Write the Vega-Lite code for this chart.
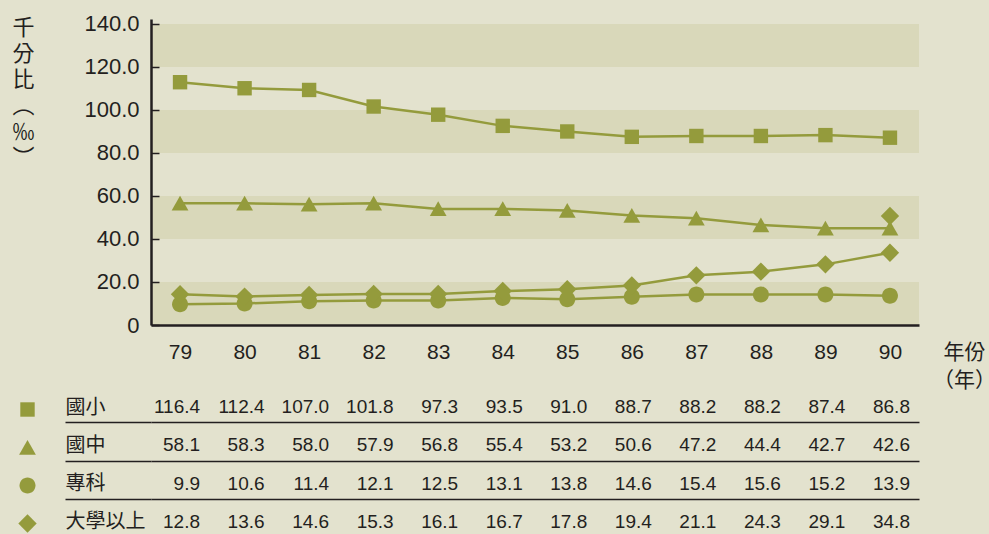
{
  "$schema": "https://vega.github.io/schema/vega-lite/v6.json",
  "background": "#e3e2ce",
  "padding": {"left": 11, "top": 12, "right": 0, "bottom": 0},
  "config": {"view": {"stroke": null}, "font": "Liberation Sans"},
  "spacing": -7,
  "datasets": {
    "rates": [
      {"year": 79, "series": "國小", "plotted": 112.9, "value": 116.4},
      {"year": 80, "series": "國小", "plotted": 110.1, "value": 112.4},
      {"year": 81, "series": "國小", "plotted": 109.3, "value": 107.0},
      {"year": 82, "series": "國小", "plotted": 101.6, "value": 101.8},
      {"year": 83, "series": "國小", "plotted": 97.8, "value": 97.3},
      {"year": 84, "series": "國小", "plotted": 92.6, "value": 93.5},
      {"year": 85, "series": "國小", "plotted": 90.0, "value": 91.0},
      {"year": 86, "series": "國小", "plotted": 87.5, "value": 88.7},
      {"year": 87, "series": "國小", "plotted": 87.9, "value": 88.2},
      {"year": 88, "series": "國小", "plotted": 87.9, "value": 88.2},
      {"year": 89, "series": "國小", "plotted": 88.3, "value": 87.4},
      {"year": 90, "series": "國小", "plotted": 87.1, "value": 86.8},
      {"year": 79, "series": "國中", "plotted": 56.6, "value": 58.1},
      {"year": 80, "series": "國中", "plotted": 56.6, "value": 58.3},
      {"year": 81, "series": "國中", "plotted": 56.1, "value": 58.0},
      {"year": 82, "series": "國中", "plotted": 56.6, "value": 57.9},
      {"year": 83, "series": "國中", "plotted": 54.0, "value": 56.8},
      {"year": 84, "series": "國中", "plotted": 54.0, "value": 55.4},
      {"year": 85, "series": "國中", "plotted": 53.2, "value": 53.2},
      {"year": 86, "series": "國中", "plotted": 50.9, "value": 50.6},
      {"year": 87, "series": "國中", "plotted": 49.6, "value": 47.2},
      {"year": 88, "series": "國中", "plotted": 46.5, "value": 44.4},
      {"year": 89, "series": "國中", "plotted": 45.0, "value": 42.7},
      {"year": 90, "series": "國中", "plotted": 45.0, "value": 42.6},
      {"year": 79, "series": "專科", "plotted": 9.6, "value": 9.9},
      {"year": 80, "series": "專科", "plotted": 10.0, "value": 10.6},
      {"year": 81, "series": "專科", "plotted": 11.1, "value": 11.4},
      {"year": 82, "series": "專科", "plotted": 11.4, "value": 12.1},
      {"year": 83, "series": "專科", "plotted": 11.4, "value": 12.5},
      {"year": 84, "series": "專科", "plotted": 12.6, "value": 13.1},
      {"year": 85, "series": "專科", "plotted": 12.0, "value": 13.8},
      {"year": 86, "series": "專科", "plotted": 13.1, "value": 14.6},
      {"year": 87, "series": "專科", "plotted": 14.2, "value": 15.4},
      {"year": 88, "series": "專科", "plotted": 14.2, "value": 15.6},
      {"year": 89, "series": "專科", "plotted": 14.2, "value": 15.2},
      {"year": 90, "series": "專科", "plotted": 13.6, "value": 13.9},
      {"year": 79, "series": "大學以上", "plotted": 14.3, "value": 12.8},
      {"year": 80, "series": "大學以上", "plotted": 13.2, "value": 13.6},
      {"year": 81, "series": "大學以上", "plotted": 14.0, "value": 14.6},
      {"year": 82, "series": "大學以上", "plotted": 14.4, "value": 15.3},
      {"year": 83, "series": "大學以上", "plotted": 14.4, "value": 16.1},
      {"year": 84, "series": "大學以上", "plotted": 15.8, "value": 16.7},
      {"year": 85, "series": "大學以上", "plotted": 16.6, "value": 17.8},
      {"year": 86, "series": "大學以上", "plotted": 18.4, "value": 19.4},
      {"year": 87, "series": "大學以上", "plotted": 23.1, "value": 21.1},
      {"year": 88, "series": "大學以上", "plotted": 24.8, "value": 24.3},
      {"year": 89, "series": "大學以上", "plotted": 28.2, "value": 29.1},
      {"year": 90, "series": "大學以上", "plotted": 33.6, "value": 34.8}
    ],
    "extra": [
      {"year": 90, "series": "大學以上", "plotted": 50.7}
    ],
    "bands": [
      {"lo": 0, "hi": 20},
      {"lo": 40, "hi": 60},
      {"lo": 80, "hi": 100},
      {"lo": 120, "hi": 140}
    ]
  },
  "vconcat": [
    {
      "width": 768,
      "height": 306,
      "layer": [
        {
          "data": {"name": "bands"},
          "mark": {"type": "rect", "color": "#d9d8ba"},
          "encoding": {
            "y": {
              "field": "lo", "type": "quantitative",
              "scale": {"domain": [0, 142.3], "nice": false, "zero": true},
              "axis": {
                "zindex": 1,
                "values": [0, 20, 40, 60, 80, 100, 120, 140],
                "labelExpr": "datum.value == 0 ? '0' : format(datum.value, '.1f')",
                "labelFont": "Liberation Sans",
                "labelFontSize": 22,
                "labelColor": "#231f20",
                "labelPadding": 20,
                "tickSize": -8,
                "tickWidth": 1.5,
                "tickColor": "#231f20",
                "domainColor": "#231f20",
                "domainWidth": 2.5,
                "grid": false,
                "title": ["千", "分", "比", "︵", "‰", "︶"],
                "titleAngle": 0,
                "titleAlign": "center",
                "titleBaseline": "top",
                "titleX": -128,
                "titleY": -2,
                "titleLineHeight": 26,
                "titleFont": "Noto Sans CJK TC",
                "titleFontSize": 22,
                "titleFontWeight": "normal",
                "titleColor": "#231f20"
              }
            },
            "y2": {"field": "hi"}
          }
        },
        {
          "data": {"name": "rates"},
          "mark": {"type": "line", "color": "#949b3c", "strokeWidth": 2.5},
          "encoding": {
            "x": {
              "field": "year", "type": "ordinal",
              "scale": {"type": "point", "padding": 0.45},
              "axis": {
                "zindex": 1,
                "labelAngle": 0,
                "labelFont": "Liberation Sans",
                "labelFontSize": 21,
                "labelColor": "#231f20",
                "labelPadding": 16,
                "ticks": false,
                "domainColor": "#231f20",
                "domainWidth": 2.5,
                "title": ["年份", "（年）"],
                "titleX": 813,
                "titleY": 16,
                "titleAlign": "center",
                "titleBaseline": "top",
                "titleLineHeight": 28,
                "titleFont": "Noto Sans CJK TC",
                "titleFontSize": 21,
                "titleFontWeight": "normal",
                "titleColor": "#231f20"
              }
            },
            "y": {"field": "plotted", "type": "quantitative"},
            "detail": {"field": "series"}
          }
        },
        {
          "data": {"name": "rates"},
          "mark": {"type": "point", "filled": true, "color": "#949b3c", "opacity": 1, "size": 256},
          "encoding": {
            "x": {"field": "year", "type": "ordinal"},
            "y": {"field": "plotted", "type": "quantitative"},
            "shape": {
              "field": "series", "type": "nominal",
              "scale": {
                "domain": ["國小", "國中", "專科", "大學以上"],
                "range": [
                  "M-0.9,-0.9H0.9V0.9H-0.9Z",
                  "M0,-0.95L1.05,0.9H-1.05Z",
                  "M-1,0A1,1 0 1,0 1,0A1,1 0 1,0 -1,0Z",
                  "M0,-1.15L1.15,0L0,1.15L-1.15,0Z"
                ]
              },
              "legend": {
                "title": null,
                "orient": "none",
                "legendX": -133,
                "legendY": 381,
                "padding": 0,
                "symbolSize": 256,
                "symbolFillColor": "#949b3c",
                "symbolStrokeColor": "#949b3c",
                "symbolStrokeWidth": 2.5,
                "symbolOpacity": 1,
                "labelExpr": "''",
                "rowPadding": 9,
                "gridAlign": "all"
              }
            }
          }
        },
        {
          "data": {"name": "extra"},
          "mark": {"type": "point", "filled": true, "color": "#949b3c", "opacity": 1, "size": 256, "shape": "M0,-1.15L1.15,0L0,1.15L-1.15,0Z"},
          "encoding": {
            "x": {"field": "year", "type": "ordinal"},
            "y": {"field": "plotted", "type": "quantitative"}
          }
        }
      ]
    },
    {
      "width": 768,
      "height": 137,
      "data": {"name": "rates"},
      "mark": {"type": "text", "align": "right", "dx": 20, "baseline": "middle", "fontSize": 19, "color": "#231f20", "font": "Liberation Sans"},
      "encoding": {
        "x": {"field": "year", "type": "ordinal", "scale": {"type": "point", "padding": 0.45}, "axis": null},
        "y": {
          "field": "series", "type": "nominal",
          "scale": {"type": "point", "padding": 0.3, "domain": ["國小", "國中", "專科", "大學以上"]},
          "axis": {
            "title": null,
            "domain": false,
            "labelAlign": "left",
            "labelBaseline": "middle",
            "labelPadding": 0,
            "labelFont": "Noto Sans CJK TC",
            "labelFontSize": 20,
            "labelColor": "#231f20",
            "tickSize": 86,
            "tickOffset": -23,
            "labelOffset": 23,
            "tickWidth": 1.5,
            "tickColor": {"condition": {"test": "datum.value === '國小'", "value": "transparent"}, "value": "#231f20"},
            "grid": true,
            "gridWidth": 1.5,
            "gridOpacity": 1,
            "gridColor": {"condition": {"test": "datum.value === '國小'", "value": "transparent"}, "value": "#231f20"}
          }
        },
        "text": {"field": "value", "type": "quantitative", "format": ".1f"}
      }
    }
  ]
}
